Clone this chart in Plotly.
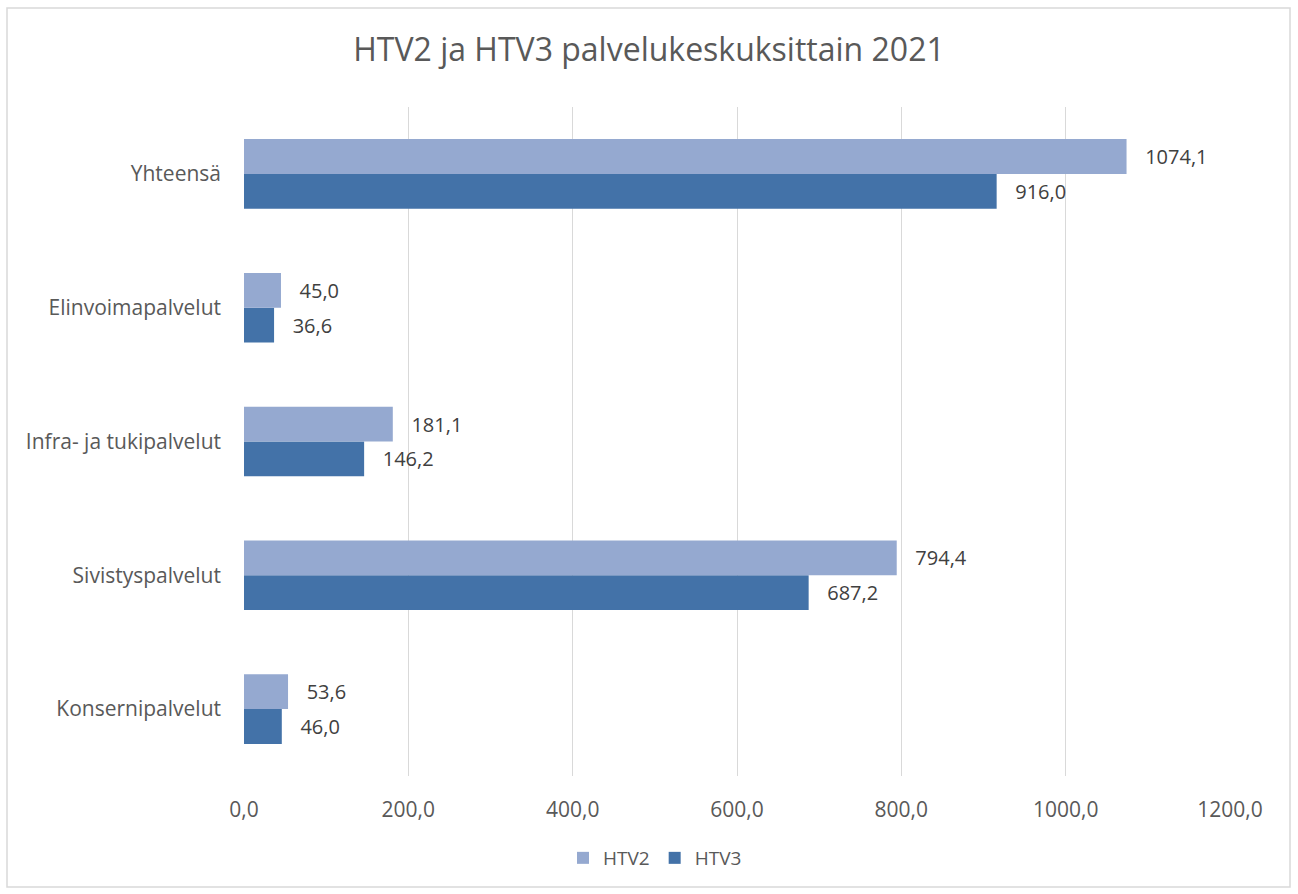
import plotly.graph_objects as go

categories = ["Konsernipalvelut", "Sivistyspalvelut", "Infra- ja tukipalvelut", "Elinvoimapalvelut", "Yhteensä"]
htv2 = [53.6, 794.4, 181.1, 45.0, 1074.1]
htv3 = [46.0, 687.2, 146.2, 36.6, 916.0]
tick_vals = [0, 200, 400, 600, 800, 1000, 1200]
tick_text = ["0,0", "200,0", "400,0", "600,0", "800,0", "1000,0", "1200,0"]

def fmt(v):
    return f"{v:.1f}".replace(".", ",")

FONT = "Open Sans, sans-serif"
C2 = "#95A9D0"
C3 = "#4372A8"
TXT = "#595959"

TOP, BOT, LEFT, RIGHT = 107, 776, 244, 1230
PH = BOT - TOP
PW = RIGHT - LEFT

fig = go.Figure()
fig.add_trace(go.Bar(
    y=categories, x=htv3, name="HTV3", orientation="h",
    marker=dict(color=C3, line=dict(width=0)),
    text=["   " + fmt(v) for v in htv3], textposition="outside",
    textfont=dict(size=20, color="#404040", family=FONT),
    cliponaxis=False, legendrank=2,
))
fig.add_trace(go.Bar(
    y=categories, x=htv2, name="HTV2", orientation="h",
    marker=dict(color=C2, line=dict(width=0)),
    text=["   " + fmt(v) for v in htv2], textposition="outside",
    textfont=dict(size=20, color="#404040", family=FONT),
    cliponaxis=False, legendrank=1,
))

fig.update_layout(
    width=1298, height=894,
    paper_bgcolor="white", plot_bgcolor="white",
    margin=dict(l=LEFT, r=1298 - RIGHT, t=TOP, b=894 - BOT, autoexpand=False),
    barmode="group", bargap=0.48, bargroupgap=0,
    font=dict(family=FONT, color=TXT, size=20),
    title=dict(text="HTV2 ja HTV3 palvelukeskuksittain 2021", x=0.5, xanchor="center",
               y=1 - 50 / 894, yanchor="middle", yref="container",
               font=dict(size=32, color=TXT, family=FONT)),
    xaxis=dict(range=[0, 1200], tickvals=tick_vals, ticktext=tick_text,
               showgrid=True, gridcolor="#D9D9D9", gridwidth=1.3, zeroline=False,
               showline=False, ticks="", ticklabelstandoff=19,
               tickfont=dict(size=21, color=TXT)),
    yaxis=dict(showgrid=False, zeroline=False, showline=False, ticks="",
               ticklabelstandoff=22, tickfont=dict(size=21, color=TXT)),
    legend=dict(orientation="h", x=(655 - LEFT) / PW, xanchor="center", y=(BOT - 858) / PH,
                yanchor="middle", font=dict(size=19, color=TXT), itemwidth=30,
                traceorder="normal"),
    showlegend=True,
    shapes=[dict(type="rect", xref="paper", yref="paper",
                 x0=(7 - LEFT) / PW, x1=(1290 - LEFT) / PW,
                 y0=(BOT - 887) / PH, y1=(BOT - 8) / PH,
                 line=dict(color="#D9D9D9", width=1.5), fillcolor="rgba(0,0,0,0)",
                 layer="below")],
)

fig.write_html("out.html", config={"displayModeBar": False},
               post_script="document.body.style.margin='0';document.body.style.padding='0';")
